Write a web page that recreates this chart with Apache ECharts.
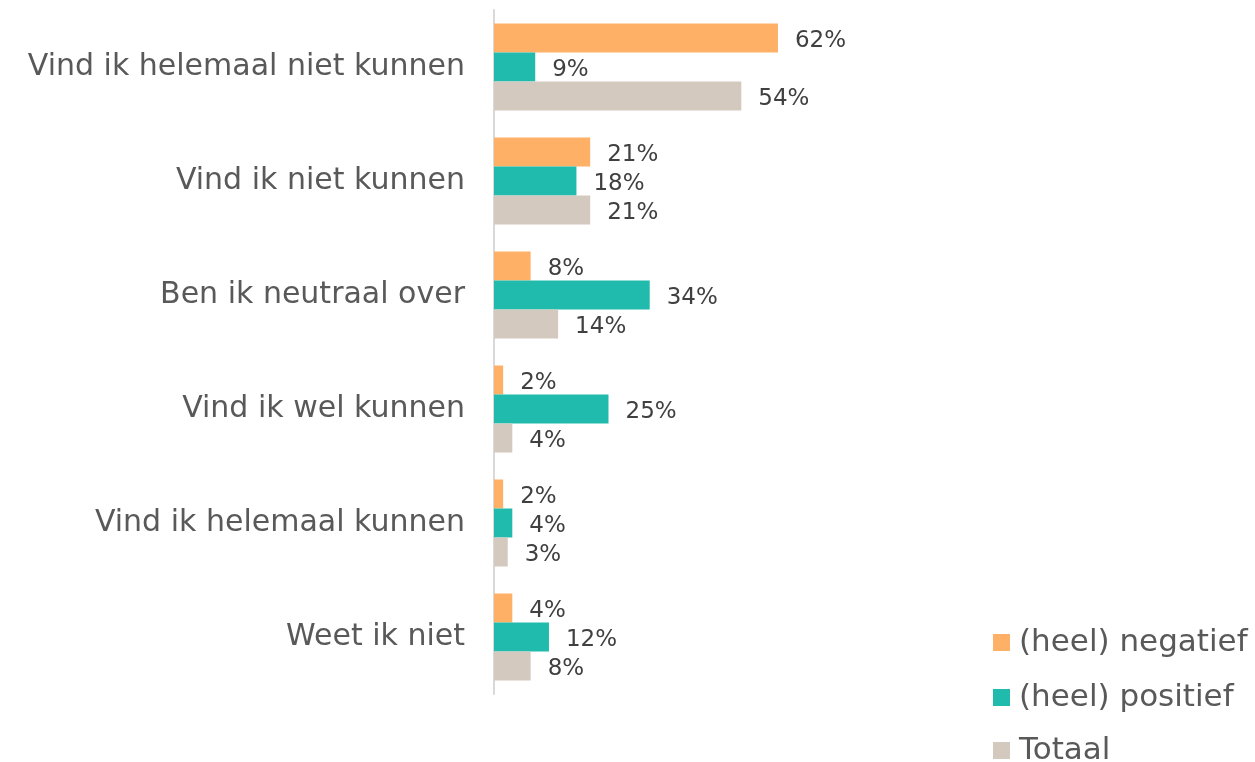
<!DOCTYPE html>
<html>
<head>
<meta charset="utf-8">
<script src="https://cdn.jsdelivr.net/npm/echarts@6/dist/echarts.min.js"></script>
<style>
  html, body { margin: 0; padding: 0; background: #fff; }
  #chart { width: 1255px; height: 762px; }
</style>
</head>
<body>
<div id="chart"></div>
<script>
// Answer categories, top to bottom
const categories = [
  'Vind ik helemaal niet kunnen',
  'Vind ik niet kunnen',
  'Ben ik neutraal over',
  'Vind ik wel kunnen',
  'Vind ik helemaal kunnen',
  'Weet ik niet'
];
const seriesNames = ['(heel) negatief', '(heel) positief', 'Totaal'];
// Percentages per group
const negatief = [62, 21, 8, 2, 2, 4];
const positief = [9, 18, 34, 25, 4, 12];
const totaal = [54, 21, 14, 4, 3, 8];

const colors = ['#FFB067', '#20BBAD', '#D3C9BF'];
const fontFamily = '"DejaVu Sans", sans-serif';

const chart = echarts.init(document.getElementById('chart'));

function barSeries(name, data, color) {
  return {
    name: name,
    type: 'bar',
    data: data,
    barWidth: 29,
    barGap: '0%',
    itemStyle: { color: color },
    label: {
      show: true,
      position: 'right',
      distance: 17,
      offset: [0, 3],
      formatter: '{c}%',
      color: '#404040',
      fontSize: 23,
      fontFamily: fontFamily
    }
  };
}

// One vertical legend entry per series, stacked in the lower right corner
const legendTops = [627, 682, 735];
const legends = seriesNames.map((name, i) => ({
  orient: 'vertical',
  left: 993,
  top: legendTops[i],
  itemWidth: 17,
  itemHeight: 17,
  icon: 'rect',
  padding: 0,
  textStyle: { color: '#595959', fontSize: 31, fontFamily: fontFamily, padding: [0, 0, 0, 4] },
  data: [name]
}));

chart.setOption({
  animation: false,
  color: colors,
  grid: { left: 494, top: 10, width: 458, height: 684, containLabel: false },
  xAxis: {
    type: 'value',
    min: 0,
    max: 100,
    show: false
  },
  yAxis: {
    type: 'category',
    data: categories,
    inverse: true,
    axisLine: { show: true, lineStyle: { color: '#D9D9D9', width: 2 } },
    axisTick: { show: false },
    axisLabel: {
      margin: 29,
      color: '#595959',
      fontSize: 30,
      fontFamily: fontFamily
    }
  },
  legend: legends,
  series: [
    barSeries(seriesNames[0], negatief, colors[0]),
    barSeries(seriesNames[1], positief, colors[1]),
    barSeries(seriesNames[2], totaal, colors[2])
  ]
});
</script>
</body>
</html>
